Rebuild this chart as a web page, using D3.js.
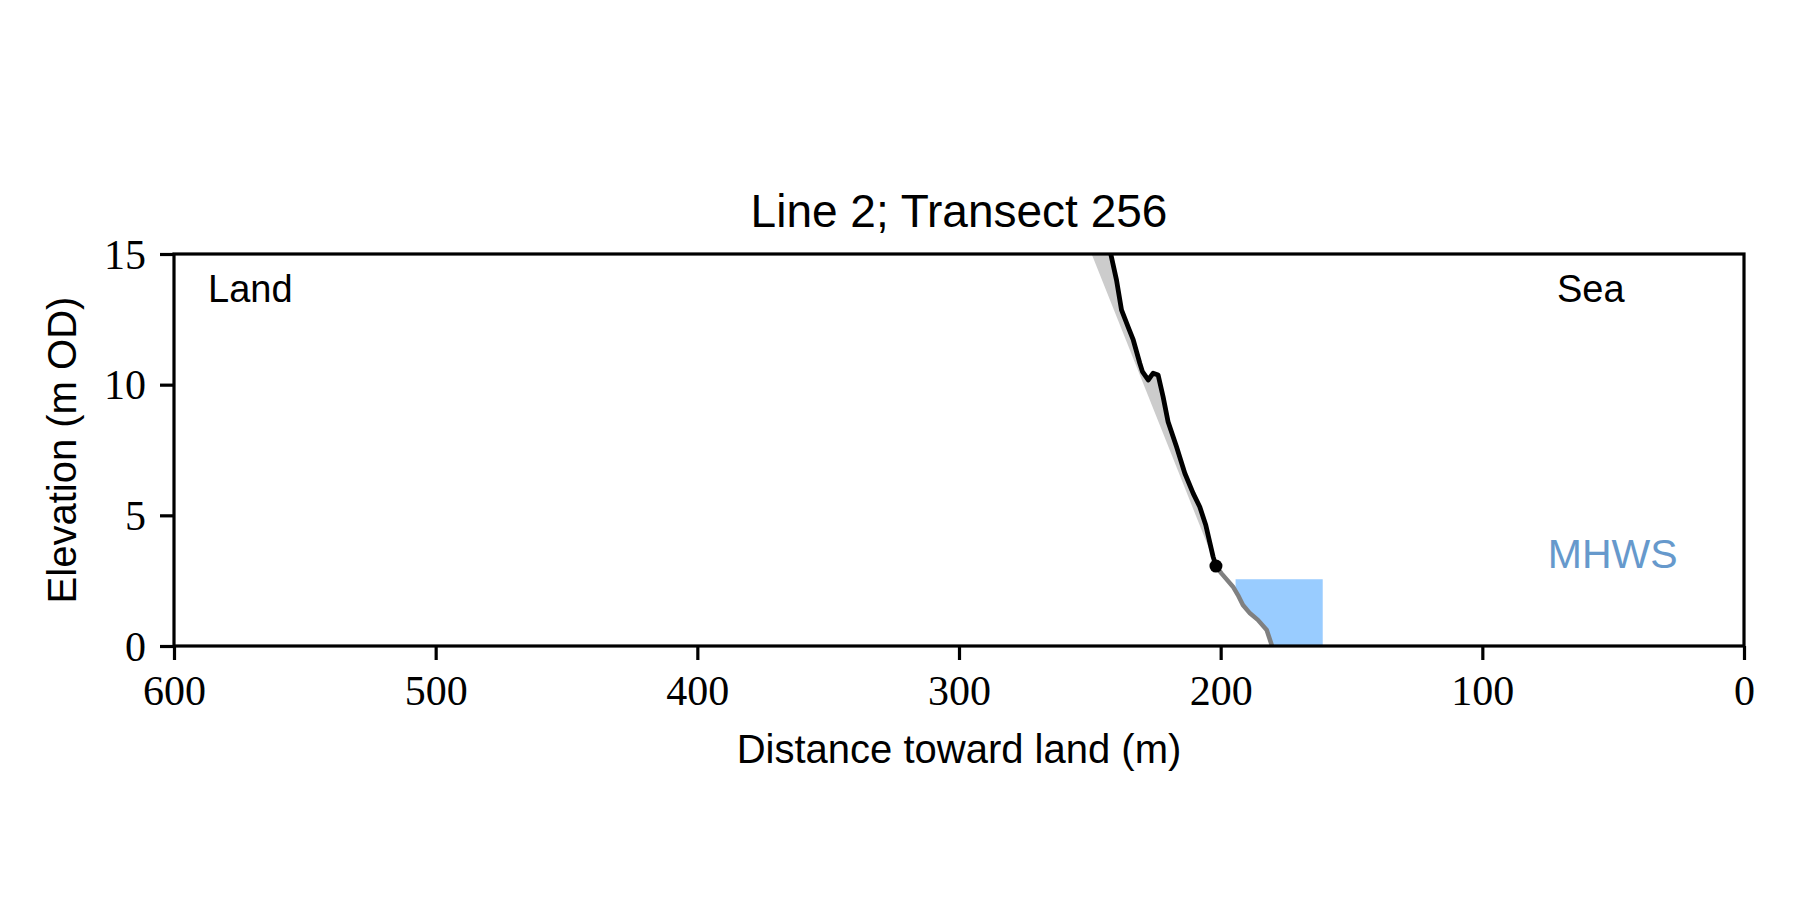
<!DOCTYPE html>
<html>
<head>
<meta charset="utf-8">
<script src="https://cdn.jsdelivr.net/npm/d3@7"></script>
<style>
  html, body { margin: 0; padding: 0; background: #fff; }
  svg { display: block; }
</style>
</head>
<body>
<svg id="chart" width="1800" height="900"></svg>
<script>
// ---------------- data ----------------
const title = "Line 2; Transect 256";
const xLabel = "Distance toward land (m)";
const yLabel = "Elevation (m OD)";
const xTicks = [600, 500, 400, 300, 200, 100, 0];
const yTicks = [0, 5, 10, 15];

// upper profile (black), distance toward land (m) and elevation (m OD)
const upperDist = [243.1, 242.0, 239.8, 237.9, 235.0, 233.4, 230.9, 229.9, 227.7, 225.8, 223.9, 222.0, 220.1, 216.9, 213.7, 210.5, 208.0, 205.7, 202.9, 201.8];
const upperElev = [15.5, 15.0, 14.0, 12.86, 12.12, 11.71, 10.82, 10.5, 10.18, 10.44, 10.37, 9.54, 8.58, 7.63, 6.61, 5.84, 5.33, 4.63, 3.42, 3.06];

// lower profile (grey)
const lowerDist = [201.8, 199.7, 195.3, 193.4, 191.5, 188.8, 185.8, 182.4, 180.5, 179.9];
const lowerElev = [3.06, 2.78, 2.27, 1.95, 1.57, 1.25, 1.0, 0.61, 0.04, -0.4];

// toe point
const toeDist = [201.8];
const toeElev = [3.06];

// straight reference slope bounding the grey fill
const slopeDist = [251.3, 201.8];
const slopeElev = [15.5, 3.06];

// MHWS water area
const mhwsLevel = 2.55;
const waterDist = [194.3, 194.3, 193.4, 191.5, 188.8, 185.8, 182.4, 180.5, 179.9, 161, 161];
const waterElev = [2.55, 2.15, 1.95, 1.57, 1.25, 1.0, 0.61, 0.04, -0.4, -0.4, 2.55];

// annotations
const annoText = ["Land", "Sea", "MHWS"];
const annoDist = [587, 71.5, 75];
const annoElev = [13.15, 13.15, 2.98];

// ---------------- layout ----------------
const svg = d3.select("#chart");
const W = 1800, H = 900;
const m = { left: 174, right: 56, top: 254, bottom: 254 };
const pw = W - m.left - m.right; // 1570
const ph = 392;

const x = d3.scaleLinear().domain([600, 0]).range([m.left, m.left + pw]);
const y = d3.scaleLinear().domain([0, 15]).range([m.top + ph, m.top]);

const sans = "'Liberation Sans', Arial, sans-serif";
const serif = "'Liberation Serif', 'Times New Roman', serif";

svg.append("rect").attr("width", W).attr("height", H).attr("fill", "#fff");

svg.append("defs").append("clipPath").attr("id", "clip")
  .append("rect").attr("x", m.left).attr("y", m.top).attr("width", pw).attr("height", ph);

const g = svg.append("g").attr("clip-path", "url(#clip)");

const zip = (a, b) => a.map((d, i) => [d, b[i]]);
const line = d3.line().x(d => x(d[0])).y(d => y(d[1]));

// grey fill between straight slope and upper profile
const greyPoly = zip(upperDist, upperElev).concat(zip(slopeDist, slopeElev).reverse());
g.append("path").attr("d", line(greyPoly) + "Z").attr("fill", "#cccccc").attr("stroke", "none");

// water
g.append("path").attr("d", line(zip(waterDist, waterElev)) + "Z").attr("fill", "#99ccff").attr("stroke", "none");

// lower profile
g.append("path").attr("d", line(zip(lowerDist, lowerElev)))
  .attr("fill", "none").attr("stroke", "#808080").attr("stroke-width", 4.5)
  .attr("stroke-linejoin", "round").attr("stroke-linecap", "butt");

// upper profile
g.append("path").attr("d", line(zip(upperDist, upperElev)))
  .attr("fill", "none").attr("stroke", "#000").attr("stroke-width", 4.8)
  .attr("stroke-linejoin", "round").attr("stroke-linecap", "butt");

// toe
g.selectAll("circle.toe").data(zip(toeDist, toeElev)).enter().append("circle")
  .attr("class", "toe").attr("cx", d => x(d[0])).attr("cy", d => y(d[1])).attr("r", 6.5).attr("fill", "#000");

// axes
const xAxis = d3.axisBottom(x).tickValues(xTicks).tickSize(14).tickPadding(14).tickFormat(d3.format("d"));
const yAxis = d3.axisLeft(y).tickValues(yTicks).tickSize(14).tickPadding(14).tickFormat(d3.format("d"));

const gx = svg.append("g").attr("transform", `translate(0,${m.top + ph})`).call(xAxis);
const gy = svg.append("g").attr("transform", `translate(${m.left},0)`).call(yAxis);
[gx, gy].forEach(a => {
  a.select(".domain").remove();
  a.selectAll(".tick line").attr("stroke", "#000").attr("stroke-width", 3.2);
  a.selectAll(".tick text").attr("fill", "#000").attr("font-family", serif).attr("font-size", 42);
});
gx.selectAll(".tick text").attr("dy", null).attr("y", 14 + 14 + 31);
gy.selectAll(".tick text").attr("dy", null).attr("y", 14);

// frame
svg.append("rect").attr("x", m.left).attr("y", m.top).attr("width", pw).attr("height", ph)
  .attr("fill", "none").attr("stroke", "#000").attr("stroke-width", 3.2);

// annotations
const annoColor = ["#000", "#000", "#6699cc"];
const annoSize = [38, 38, 41];
svg.selectAll("text.anno").data(annoText).enter().append("text")
  .attr("class", "anno")
  .attr("x", (d, i) => x(annoDist[i])).attr("y", (d, i) => y(annoElev[i]))
  .attr("font-family", sans).attr("font-size", (d, i) => annoSize[i])
  .attr("fill", (d, i) => annoColor[i])
  .text(d => d);

// title & labels
svg.append("text").attr("x", m.left + pw / 2).attr("y", 227).attr("text-anchor", "middle")
  .attr("font-family", sans).attr("font-size", 46).attr("fill", "#000").text(title);
svg.append("text").attr("x", m.left + pw / 2).attr("y", 763).attr("text-anchor", "middle")
  .attr("font-family", sans).attr("font-size", 40).attr("fill", "#000").text(xLabel);
svg.append("text").attr("transform", `translate(76,${m.top + ph / 2}) rotate(-90)`).attr("text-anchor", "middle")
  .attr("font-family", sans).attr("font-size", 40).attr("fill", "#000").text(yLabel);
</script>
</body>
</html>
